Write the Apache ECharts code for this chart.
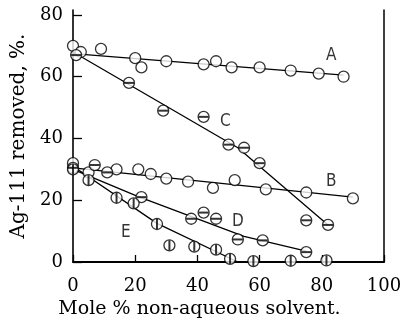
<!DOCTYPE html>
<html>
<head>
<meta charset="utf-8">
<script src="https://cdn.jsdelivr.net/npm/echarts@6/dist/echarts.min.js"></script>
<style>
  html, body { margin: 0; padding: 0; background: #fff; }
  #chart { width: 401px; height: 321px; }
</style>
</head>
<body>
<div id="chart"></div>
<script>
// measured points, [mole %, Ag-111 removed %]
var seriesA = [[0, 70], [2.5, 68], [9, 69], [20, 66], [22, 63], [30, 65], [42, 64], [46, 65], [51, 63], [60, 63], [70, 62], [79, 61], [87, 60]];
var seriesB = [[0, 32], [5, 29], [14, 30], [21, 30], [25, 28.5], [30, 27], [37, 26], [45, 24], [52, 26.5], [62, 23.5], [75, 22.5], [90, 20.6]];
var seriesC = [[1, 67], [18, 58], [29, 49], [42, 47], [50, 38], [55, 37], [60, 32], [75, 13.5], [82, 12]];
var seriesD = [[0, 30.5], [7, 31.4], [11, 29], [22, 21], [38, 14], [42, 16], [46, 14], [53, 7.3], [61, 7], [75, 3.2]];
var seriesE = [[0, 30], [5, 26.5], [14, 20.8], [19.5, 19], [27, 12.3], [31, 5.4], [39, 5], [46, 4], [50.5, 1], [58, 0.3], [70, 0.4], [81.5, 0.5]];

// hand drawn trend lines
var lineA = [[0, 67.5], [87, 60.5]];
var lineB = [[0, 30.5], [90, 21]];
var lineC = [[0, 68], [53, 37], [82, 12]];
var lineD = [[0, 30], [21, 21.2], [55, 8.3], [75, 3.5]];
var lineE = [[0, 31], [27, 12.5], [53, 0]];

// curve letters
var curveNames = ['A', 'B', 'C', 'D', 'E'];
var curveLabelPos = [[83, 67], [83, 26], [49, 45.5], [53, 13], [17, 9.5]];

var yTicks = [0, 20, 40, 60, 80];

var serif = '"DejaVu Serif", "Liberation Serif", serif';

var chart = echarts.init(document.getElementById('chart'));

// open circle markers
function pts(data) {
    return {
        type: 'scatter',
        data: data,
        symbol: 'circle',
        symbolSize: 11,
        z: 5,
        itemStyle: { color: '#fff', borderColor: '#000', borderWidth: 1.3 },
        silent: true
    };
}

// bar drawn across a circle (horizontal or vertical)
function bar(data, size) {
    return {
        type: 'scatter',
        data: data,
        symbol: 'rect',
        symbolSize: size,
        z: 6,
        itemStyle: { color: '#000' },
        silent: true
    };
}

function fit(data) {
    return {
        type: 'line',
        data: data,
        symbol: 'none',
        z: 3,
        lineStyle: { color: '#000', width: 1.3 },
        silent: true
    };
}

var option = {
    animation: false,
    backgroundColor: '#fff',
    grid: { left: 73, right: 17, top: 10, bottom: 59, outerBoundsMode: 'none' },
    xAxis: {
        type: 'value',
        min: 0,
        max: 100,
        interval: 20,
        name: 'Mole % non-aqueous solvent.',
        nameLocation: 'middle',
        nameGap: 31,
        nameTextStyle: { fontFamily: serif, fontSize: 19, color: '#000', padding: [0, 58, 0, 0] },
        axisLine: { lineStyle: { color: '#000', width: 2 } },
        axisTick: { inside: true, length: 7, lineStyle: { color: '#000', width: 1.3 } },
        axisLabel: { margin: 15, fontFamily: serif, fontSize: 18, color: '#000' },
        splitLine: { show: false }
    },
    yAxis: [{
        type: 'value',
        min: 0,
        max: 81.6,
        name: 'Ag-111 removed, %.',
        nameLocation: 'middle',
        nameGap: 37,
        nameTextStyle: { fontFamily: serif, fontSize: 20, color: '#000' },
        axisLine: { show: true, lineStyle: { color: '#000', width: 1.6 } },
        axisTick: { inside: true, length: 9, customValues: yTicks, lineStyle: { color: '#000', width: 1.3 } },
        axisLabel: { margin: 10, customValues: yTicks, fontFamily: serif, fontSize: 18, color: '#000' },
        splitLine: { show: false }
    }, {
        type: 'value',
        position: 'right',
        min: 0,
        max: 81.6,
        axisLine: { show: true, lineStyle: { color: '#000', width: 1.5 } },
        axisTick: { show: false },
        axisLabel: { show: false },
        splitLine: { show: false }
    }],
    series: [
        fit(lineA), fit(lineB), fit(lineC), fit(lineD), fit(lineE),
        pts(seriesA),
        pts(seriesB),
        pts(seriesC),
        pts(seriesD),
        pts(seriesE),
        bar(seriesC, [10, 2]),
        bar(seriesD, [10, 2]),
        bar(seriesE, [2, 10]),
        {
            type: 'scatter',
            symbolSize: 0,
            z: 7,
            silent: true,
            data: curveNames.map(function (n, i) { return { name: n, value: curveLabelPos[i] }; }),
            label: {
                show: true,
                position: 'inside',
                formatter: '{b}',
                fontFamily: '"Liberation Sans Narrow", "DejaVu Sans Condensed", sans-serif',
                fontSize: 17,
                color: '#000'
            }
        }
    ]
};

chart.setOption(option);
</script>
</body>
</html>
